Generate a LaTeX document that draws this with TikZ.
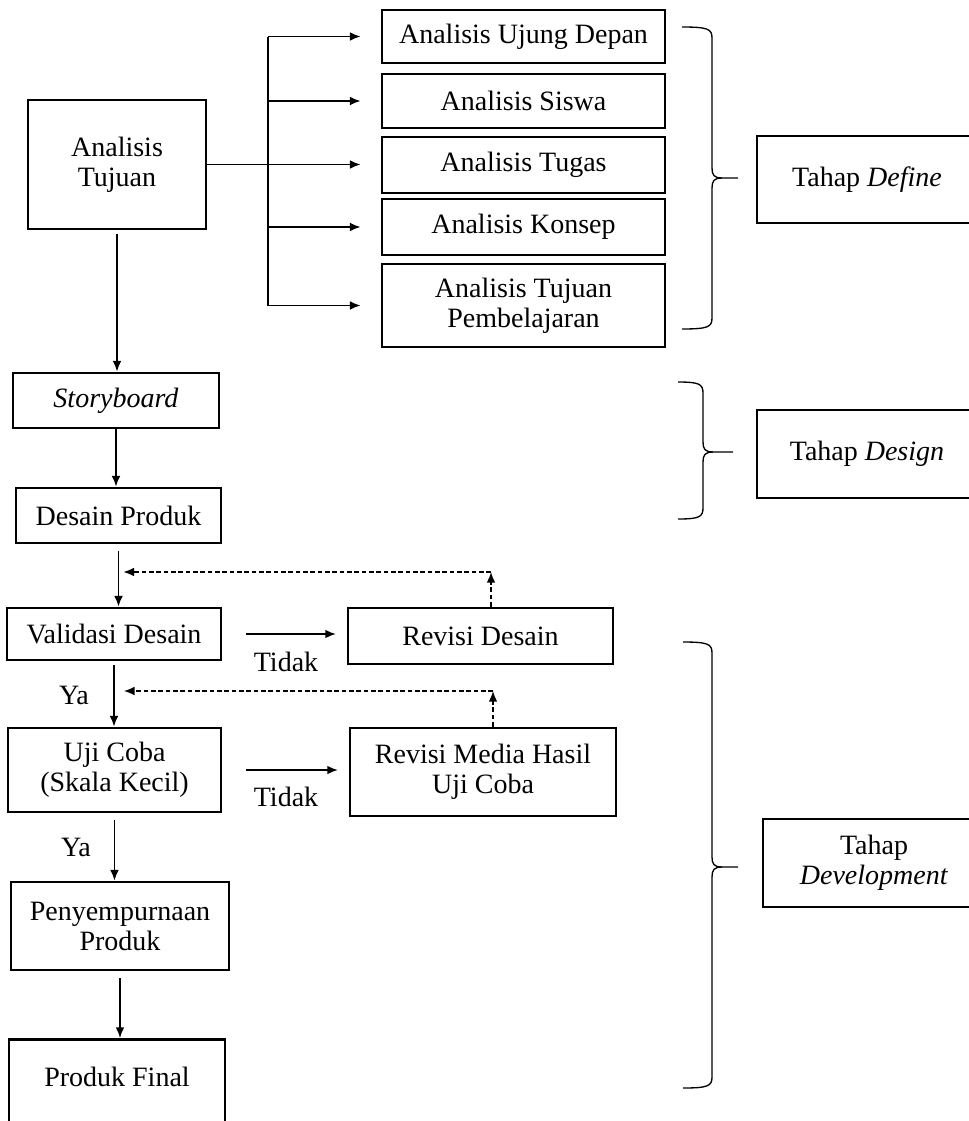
\documentclass[tikz,border=0pt]{standalone}
\usepackage{fontspec}
\setmainfont{Liberation Serif}
\usetikzlibrary{positioning, arrows.meta}

\tikzset{
  every node/.style={font=\fontsize{21}{22.5}\selectfont},
  box/.style={draw, line width=2.1pt, align=center, inner sep=2pt},
  phase/.style={box, align=center},
  lbl/.style={inner sep=0pt},
  arr/.style={line width=1.15pt, -{Latex[length=8pt,width=6.5pt]}},
  dasharr/.style={arr, dash pattern=on 3.5pt off 2pt},
  brc/.style={line width=1pt},
}

\begin{document}
\begin{tikzpicture}[x=0.75pt,y=0.75pt,yscale=-1,xscale=1]
    \useasboundingbox (0,0) rectangle (969,1121);
    \clip (0,0) rectangle (969,1121);
    % define stage
    \node[box, minimum width=133.5pt, minimum height=96.75pt] (tujuan) at (117,164.5) {Analisis\\Tujuan};
    \node[box, minimum width=212.25pt, minimum height=39.75pt] (ujung) at (523.5,36.5) {Analisis Ujung Depan};
    \node[box, minimum width=212.25pt, minimum height=40.5pt] (siswa) at (523.5,101) {Analisis Siswa};
    \node[box, minimum width=212.25pt, minimum height=42pt] (tugas) at (523.5,165) {Analisis Tugas};
    \node[box, minimum width=212.25pt, minimum height=42pt] (konsep) at (523.5,227) {Analisis Konsep};
    \node[box, minimum width=212.25pt, minimum height=62.25pt] (tpemb) at (523.5,305.5) {Analisis Tujuan\\Pembelajaran};
    \coordinate (fork) at (268,40);
    \draw[line width=1.15pt] (fork |- ujung) -- (fork |- tpemb);
    \draw[arr, shorten >=15pt] (tujuan.east) -- (tujuan.east -| tugas.west);
    \foreach \b in {ujung,siswa,konsep,tpemb}
        \draw[arr, shorten >=15pt] (fork |- \b) -- (\b.west);
    % design stage
    \node[box, minimum width=154.5pt, minimum height=41.25pt] (story) at (116,400.5) {\textit{Storyboard}};
    \node[box, minimum width=153.75pt, minimum height=41.25pt] (desain) at (118.5,515.5) {Desain Produk};
    \draw[arr, shorten <=3pt] (tujuan.south) -- (tujuan.south |- story.north);
    \draw[arr] (story.south) -- (story.south |- desain.north);
    % development stage
    \node[box, minimum width=160.5pt, minimum height=39pt] (validasi) at (114,634) {Validasi Desain};
    \node[box, minimum width=198.75pt, minimum height=42pt] (revdes) at (480.5,636) {Revisi Desain};
    \node[box, minimum width=159.75pt, minimum height=63pt] (ujicoba) at (114.5,770) {Uji Coba\\(Skala Kecil)};
    \node[box, minimum width=199.5pt, minimum height=66pt] (revmed) at (483,772) {Revisi Media Hasil\\Uji Coba};
    \node[box, minimum width=163.5pt, minimum height=66pt] (sempurna) at (120,926) {Penyempurnaan\\Produk};
    \node[box, anchor=north, minimum width=162pt, minimum height=75pt] (final) at (117,1038) {};
    \node[lbl] (finaltxt) at (117,1077) {Produk Final};
    \draw[arr, shorten <=5pt] (desain.south) -- (desain.south |- validasi.north);
    \draw[arr, shorten <=3pt] (validasi.south) -- (validasi.south |- ujicoba.north);
    \draw[arr, shorten <=5pt] (ujicoba.south) -- (ujicoba.south |- sempurna.north);
    \draw[arr, shorten <=5pt] (sempurna.south) -- (sempurna.south |- final.north);
    \draw[arr, shorten <=18pt, shorten >=8pt] (validasi.east) -- (validasi.east -| revdes.west);
    \draw[arr, shorten <=18pt, shorten >=8pt] (ujicoba.east) -- (ujicoba.east -| revmed.west);
    \node[lbl] (ya1) at (74,695) {Ya};
    \node[lbl] (ya2) at (76,847) {Ya};
    \node[lbl] (tidak1) at (286,662) {Tidak};
    \node[lbl] (tidak2) at (286,797) {Tidak};
    % feedback loops
    \coordinate (back1) at (491,572);
    \coordinate (back2) at (493,691);
    \draw[dasharr] (revdes.north -| back1) -- (back1);
    \draw[dasharr, shorten >=7pt] (back1) -- (back1 -| validasi.north);
    \draw[dasharr] (revmed.north -| back2) -- (back2);
    \draw[dasharr, shorten >=7pt] (back2) -- (back2 -| ujicoba.north);
    % stages on the right
    \draw[brc] (682,27) .. controls (708,27) and (712,29) .. (712,38) -- (712,168) .. controls (712,175) and (714,178) .. (722,178) -- (738,178);
    \draw[brc] (722,178) .. controls (714,178) and (712,181) .. (712,188) -- (712,318) .. controls (712,327) and (708,329) .. (682,329);
    \draw[brc] (678,382) .. controls (699,382) and (703,384) .. (703,393) -- (703,442) .. controls (703,449) and (705,452) .. (713,452) -- (733,452);
    \draw[brc] (713,452) .. controls (705,452) and (703,455) .. (703,462) -- (703,508) .. controls (703,517) and (699,519) .. (678,519);
    \draw[brc] (683,642) .. controls (708,642) and (712,644) .. (712,653) -- (712,857) .. controls (712,864) and (714,867) .. (722,867) -- (738,867);
    \draw[brc] (722,867) .. controls (714,867) and (712,870) .. (712,877) -- (712,1077) .. controls (712,1086) and (708,1088) .. (683,1088);
    \node[phase, minimum width=171pt, minimum height=65.25pt] (pdefine) at (871,179.5) {Tahap \textit{Define}\hspace{6pt}};
    \node[phase, minimum width=171pt, minimum height=66pt] (pdesign) at (871,454) {Tahap \textit{Design}\hspace{6pt}};
    \node[phase, minimum width=166.5pt, minimum height=66pt] (pdevel) at (874,863) {Tahap\\\textit{Development}};
\end{tikzpicture}
\end{document}
